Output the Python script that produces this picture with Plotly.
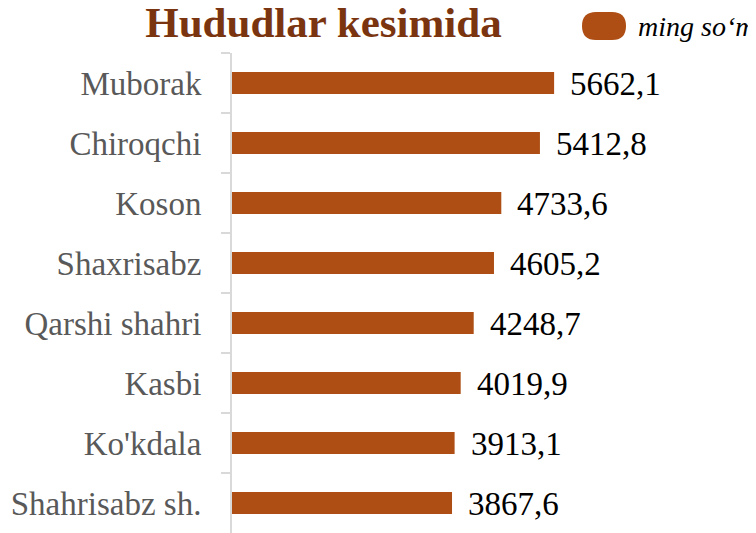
import plotly.graph_objects as go

categories = ["Muborak", "Chiroqchi", "Koson", "Shaxrisabz", "Qarshi shahri",
              "Kasbi", "Ko'kdala", "Shahrisabz sh."]
values = [5662.1, 5412.8, 4733.6, 4605.2, 4248.7, 4019.9, 3913.1, 3867.6]
series_name = "ming so‘m"
title_text = "Hududlar kesimida"

BAR = "#AE4E14"
labels = [f"{v:.1f}".replace(".", ",") for v in values]

# page body has an 8px default margin; figure coordinates compensate for it
W, H = 748, 525
L, T, R = 224, 45, 12
PW, PH = W - L - R, H - T

fig = go.Figure()
fig.add_trace(go.Bar(
    y=categories, x=values, orientation="h", name=series_name,
    marker=dict(color=BAR, line=dict(width=0)), width=0.37, showlegend=False,
))
for c, v, t in zip(categories, values, labels):
    fig.add_annotation(x=v, y=c, text=t, showarrow=False, xanchor="left",
                       xshift=14, yshift=-1,
                       font=dict(family="Liberation Serif", size=33, color="#000000"))

fig.update_layout(
    width=W, height=H,
    margin=dict(l=L, r=R, t=T, b=0, autoexpand=False),
    paper_bgcolor="white", plot_bgcolor="white",
    title=dict(text=title_text, xref="container", yref="container",
               x=315.5 / W, xanchor="center", y=1 - 14 / H, yanchor="middle",
               font=dict(family="Liberation Serif", size=43, color="#7A3510",
                         weight="bold")),
    xaxis=dict(range=[0, 9000], visible=False, showgrid=False, zeroline=False),
    yaxis=dict(autorange="reversed", showline=True, linecolor="#D9D9D9",
               linewidth=2, ticks="outside", tickson="boundaries", ticklen=9,
               tickcolor="#D9D9D9", tickwidth=2, ticklabelstandoff=22,
               tickfont=dict(family="Liberation Serif", size=33, color="#595959"),
               showgrid=False),
)

# legend-like key (rounded pill), positioned in pixels
kx = (596 - L) / PW
ky = 1 + (T - 18) / PH
fig.add_shape(type="path", xref="paper", yref="paper",
              xsizemode="pixel", ysizemode="pixel", xanchor=kx, yanchor=ky,
              path="M -8,14 L 8,14 Q 22,14 22,0 Q 22,-14 8,-14 L -8,-14 Q -22,-14 -22,0 Q -22,14 -8,14 Z",
              fillcolor=BAR, line=dict(width=0))
fig.add_annotation(xref="paper", yref="paper", x=(628 - L) / PW, y=1 + (T - 18) / PH,
                   text=f"<i>{series_name}</i>", showarrow=False,
                   xanchor="left", yanchor="middle",
                   font=dict(family="Liberation Serif", size=28, color="#000000"))

fig.write_html("out.html")
